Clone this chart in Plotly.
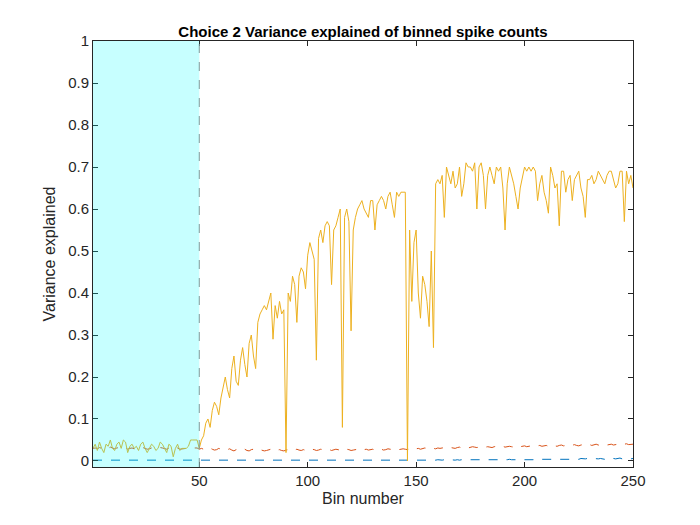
import plotly.graph_objects as go

bins = list(range(1, 251))

# explained variance
full_model = [
    .03, .04, .025, .045, .03, .02, .04, .035, .05, .03,
    .025, .04, .045, .03, .05, .045, .02, .035, .04, .03,
    .035, .025, .04, .045, .03, .02, .03, .04, .035, .025,
    .03, .045, .04, .03, .02, .04, .035, .01, .03, .04,
    .025, .03, .03, .03, .035, .05, .05, .05, .05, .03,
    .05, .06, .09, .1, .08, .12, .14, .13, .11, .15,
    .18, .2, .17, .15, .22, .25, .19, .18, .24, .27,
    .23, .2, .28, .3, .25, .22, .33, .35, .36, .37,
    .36, .38, .4, .29, .37, .34, .38, .35, .36, .02,
    .4, .38, .44, .42, .33, .44, .46, .45, .41, .49,
    .52, .5, .48, .24, .53, .55, .52, .56, .57, .56,
    .42, .55, .56, .58, .6, .08, .58, .6, .57, .31,
    .55, .58, .6, .61, .62, .6, .59, .58, .62, .62,
    .55, .61, .62, .63, .62, .6, .63, .64, .61, .58,
    .64, .63, .64, .64, .64, .0, .55, .38, .52, .55,
    .4, .34, .44, .42, .38, .32, .5, .27, .66, .67,
    .66, .68, .58, .7, .68, .66, .69, .65, .66, .7,
    .63, .66, .71, .7, .7, .69, .71, .6, .7, .71,
    .68, .6, .68, .7, .68, .66, .7, .69, .7, .65,
    .55, .66, .7, .68, .66, .63, .6, .65, .68, .7,
    .69, .7, .69, .7, .69, .62, .66, .68, .64, .62,
    .59, .7, .68, .65, .66, .56, .69, .69, .64, .67,
    .68, .62, .67, .68, .69, .65, .63, .58, .67, .67,
    .68, .66, .67, .69, .68, .67, .66, .68, .69, .69,
    .67, .65, .66, .69, .69, .57, .69, .66, .68, .65,
]

red_model = [
    .030, .031, .029, .032, .030, .028, .031, .030, .033, .030,
    .029, .031, .032, .030, .033, .032, .028, .030, .031, .029,
    .030, .029, .031, .032, .030, .028, .029, .031, .030, .029,
    .030, .032, .031, .030, .028, .031, .030, .027, .029, .031,
    .028, .029, .030, .030, .030, .031, .031, .031, .031, .028,
    .030, .028, .027, .029, .031, .028, .026, .027, .030, .028,
    .026, .025, .027, .029, .026, .024, .027, .028, .025, .026,
    .028, .025, .024, .027, .028, .026, .025, .027, .026, .024,
    .025, .027, .028, .025, .024, .026, .027, .025, .024, .026,
    .027, .025, .024, .026, .028, .026, .025, .027, .026, .024,
    .026, .028, .027, .025, .026, .028, .027, .025, .026, .027,
    .025, .026, .028, .027, .025, .024, .026, .028, .027, .025,
    .026, .027, .028, .026, .025, .027, .028, .026, .027, .028,
    .026, .027, .029, .028, .026, .027, .029, .028, .027, .028,
    .029, .027, .028, .029, .028, .027, .029, .030, .028, .029,
    .030, .028, .029, .031, .030, .029, .031, .030, .029, .031,
    .030, .031, .032, .030, .031, .032, .031, .030, .032, .033,
    .031, .032, .033, .031, .032, .034, .033, .032, .033, .034,
    .032, .033, .034, .033, .032, .034, .035, .033, .034, .035,
    .033, .034, .035, .034, .033, .035, .036, .034, .035, .036,
    .034, .035, .036, .035, .034, .036, .037, .035, .036, .037,
    .035, .036, .038, .036, .035, .037, .038, .036, .037, .038,
    .036, .037, .039, .037, .036, .038, .039, .037, .038, .039,
    .037, .038, .040, .038, .037, .039, .040, .038, .039, .040,
    .038, .039, .040, .039, .038, .040, .041, .039, .040, .040,
]

blue_model = [
    .002, .002, .002, .002, .002, .002, .002, .002, .002, .002,
    .002, .002, .002, .002, .002, .002, .002, .002, .002, .002,
    .002, .002, .002, .002, .002, .002, .002, .002, .002, .002,
    .002, .002, .002, .002, .002, .002, .002, .002, .002, .002,
    .002, .002, .002, .002, .002, .002, .002, .002, .002, .002,
    .001, .001, .001, .002, .001, .001, .001, .002, .001, .001,
    .001, .001, .001, .001, .001, .001, .001, .001, .001, .001,
    .001, .001, .001, .001, .001, .001, .001, .001, .001, .001,
    .001, .001, .001, .001, .001, .001, .001, .001, .001, .001,
    .001, .001, .001, .001, .001, .001, .001, .001, .001, .001,
    .001, .001, .001, .001, .001, .001, .001, .001, .001, .001,
    .001, .001, .001, .001, .001, .001, .001, .001, .001, .001,
    .001, .001, .001, .001, .001, .001, .001, .001, .001, .001,
    .001, .001, .001, .001, .002, .001, .001, .002, .001, .002,
    .001, .002, .002, .001, .002, .002, .001, .002, .002, .002,
    .002, .002, .002, .002, .002, .002, .002, .002, .002, .003,
    .002, .002, .003, .002, .002, .003, .002, .002, .003, .002,
    .003, .002, .003, .003, .002, .003, .003, .002, .003, .003,
    .003, .003, .002, .003, .003, .003, .003, .003, .004, .003,
    .003, .003, .004, .003, .003, .004, .003, .003, .004, .004,
    .003, .004, .004, .003, .005, .004, .003, .004, .004, .004,
    .004, .005, .004, .004, .005, .004, .004, .005, .005, .004,
    .005, .004, .005, .005, .004, .006, .005, .005, .006, .005,
    .005, .006, .005, .005, .006, .005, .004, .006, .007, .005,
    .006, .005, .006, .007, .005, .006, .007, .006, .005, .006,
]

fig = go.Figure()
fig.add_trace(go.Scatter(x=bins, y=blue_model, mode="lines",
                         line=dict(color="#0072BD", width=1, dash="dash")))
fig.add_trace(go.Scatter(x=bins, y=red_model, mode="lines",
                         line=dict(color="#D95319", width=1, dash="dash")))
fig.add_trace(go.Scatter(x=bins, y=full_model, mode="lines",
                         line=dict(color="#EDB120", width=1)))

# baseline window, drawn over the lines like the original patch
fig.add_shape(type="rect", x0=1, x1=50, y0=-0.0143, y1=1, layer="above",
              fillcolor="rgb(0,255,255)", opacity=0.22, line_width=0)
fig.add_vline(x=50, line_width=1, line_dash="dash", line_color="#7f9a9a")

axis_style = dict(showline=True, linecolor="#262626", linewidth=1, mirror="ticks",
                  ticks="inside", ticklen=5, tickcolor="#262626",
                  showgrid=False, zeroline=False,
                  tickfont=dict(size=15, color="#262626"))

fig.update_layout(
    width=700, height=525,
    margin=dict(l=85, r=75, t=33, b=66),
    plot_bgcolor="white", paper_bgcolor="white",
    font=dict(family="Liberation Sans, Arial, sans-serif", color="#262626"),
    showlegend=False,
    title=dict(text="<b>Choice 2 Variance explained of binned spike counts</b>",
               x=0.5, xanchor="center", xref="paper", y=0.965,
               font=dict(size=15, color="black")),
    xaxis=dict(range=[1, 250], tickvals=[50, 100, 150, 200, 250],
               title=dict(text="Bin number", font=dict(size=16), standoff=4), **axis_style),
    yaxis=dict(range=[-0.0143, 1], tickvals=[i / 10 for i in range(11)],
               ticktext=["0", "0.1", "0.2", "0.3", "0.4", "0.5", "0.6", "0.7", "0.8", "0.9", "1"],
               title=dict(text="Variance explained", font=dict(size=16), standoff=8), **axis_style),
)

fig.write_html("out.html")
